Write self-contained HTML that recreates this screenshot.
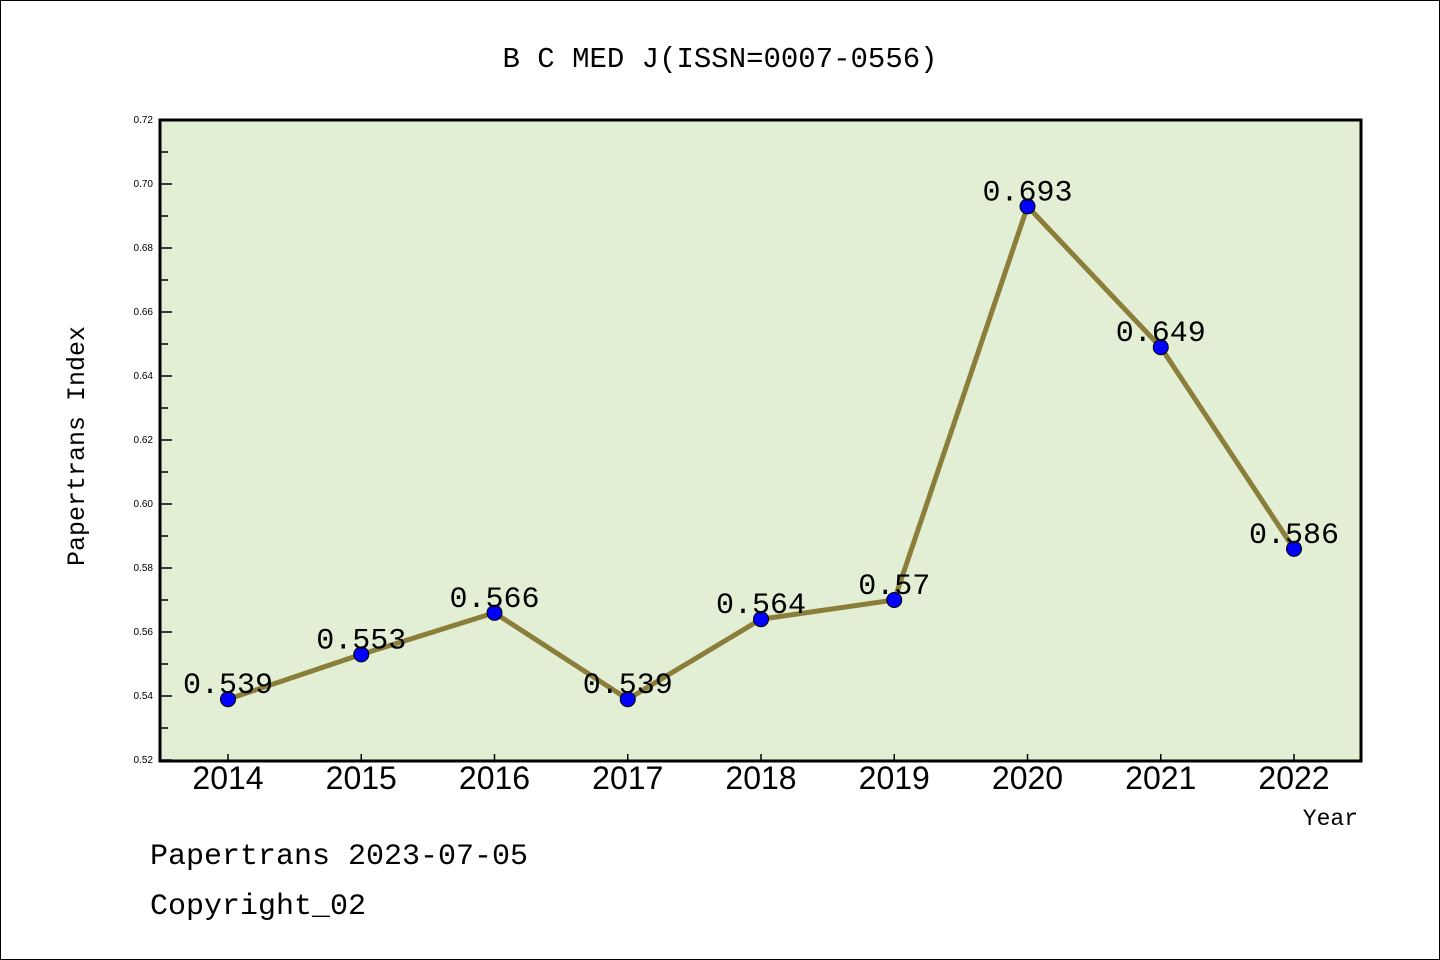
<!DOCTYPE html>
<html><head><meta charset="utf-8"><style>
body{margin:0;background:#fff;}
svg{display:block;font-family:"Liberation Mono","WenQuanYi Zen Hei",monospace;}
</style></head><body>
<svg id="c" width="1440" height="960">
<rect x="0.5" y="0.5" width="1439" height="959" fill="#fff" stroke="#000"/>
<text x="720" y="67" text-anchor="middle" font-size="29">B C MED J(ISSN=0007-0556)</text>
<rect x="160" y="120" width="1201" height="641" fill="#e2efd5" stroke="#000" stroke-width="3"/>
<g id="yax"></g>
<g id="xax"></g>
<g id="series"></g>
<text transform="translate(84,446) rotate(-90)" text-anchor="middle" font-size="25">Papertrans Index</text>
<text x="1358" y="825" text-anchor="end" font-size="23">Year</text>
<text x="150" y="864" font-size="30">Papertrans 2023-07-05</text>
<text x="150" y="914" font-size="30">Copyright_02</text>
</svg>
<script>
const years=["2014","2015","2016","2017","2018","2019","2020","2021","2022"];
const values=[0.539,0.553,0.566,0.539,0.564,0.57,0.693,0.649,0.586];
const valueLabels=["0.539","0.553","0.566","0.539","0.564","0.57","0.693","0.649","0.586"];
const yTicks=[0.52,0.54,0.56,0.58,0.60,0.62,0.64,0.66,0.68,0.70,0.72];
const NS="http://www.w3.org/2000/svg";
const yMin=0.52,yMax=0.72,plotTop=120,plotBot=760;
const yS=v=>plotBot-(v-yMin)/(yMax-yMin)*(plotBot-plotTop);
const xS=i=>228+i*(1294-228)/(years.length-1);
function mk(t,a,p){const e=document.createElementNS(NS,t);for(const k in a)e.setAttribute(k,a[k]);p.appendChild(e);return e;}
const ya=document.getElementById('yax'),xa=document.getElementById('xax'),se=document.getElementById('series');
yTicks.forEach((v,i)=>{
 const l=mk('line',{x1:160,x2:172,y1:yS(v),y2:yS(v),stroke:'#000','stroke-width':1.5},ya);
 
 
 const t=mk('text',{x:153,y:yS(v)+3,'text-anchor':'end','font-size':10,'font-family':'Liberation Sans'},ya);
 t.textContent=v.toFixed(2);
 
 
 if(i<yTicks.length-1){const m=(v+yTicks[i+1])/2;
  const ml=mk('line',{x1:160,x2:168,y1:yS(m),y2:yS(m),stroke:'#000','stroke-width':1.5},ya);
  
  }
});
years.forEach((yr,i)=>{
 const l=mk('line',{x1:xS(i),x2:xS(i),y1:plotBot-6,y2:plotBot,stroke:'#000','stroke-width':1.5},xa);
 
 
 const t=mk('text',{x:xS(i),y:789,'text-anchor':'middle','font-size':32,'font-family':'Liberation Sans'},xa);
 t.textContent=yr;
 
 
});
const pl=mk('polyline',{points:values.map((v,i)=>xS(i)+','+yS(v)).join(' '),fill:'none',stroke:'#8b7d3a','stroke-width':5,'stroke-linejoin':'round'},se);


values.forEach((v,i)=>{
 const c=mk('circle',{cx:xS(i),cy:yS(v),r:7.5,fill:'#0000ff',stroke:'#000','stroke-width':1},se);
 
 
});
values.forEach((v,i)=>{
 const t=mk('text',{x:xS(i),y:yS(v)-6,'text-anchor':'middle','font-size':30},se);
 t.textContent=valueLabels[i];
 
 
});
</script>
</body></html>
